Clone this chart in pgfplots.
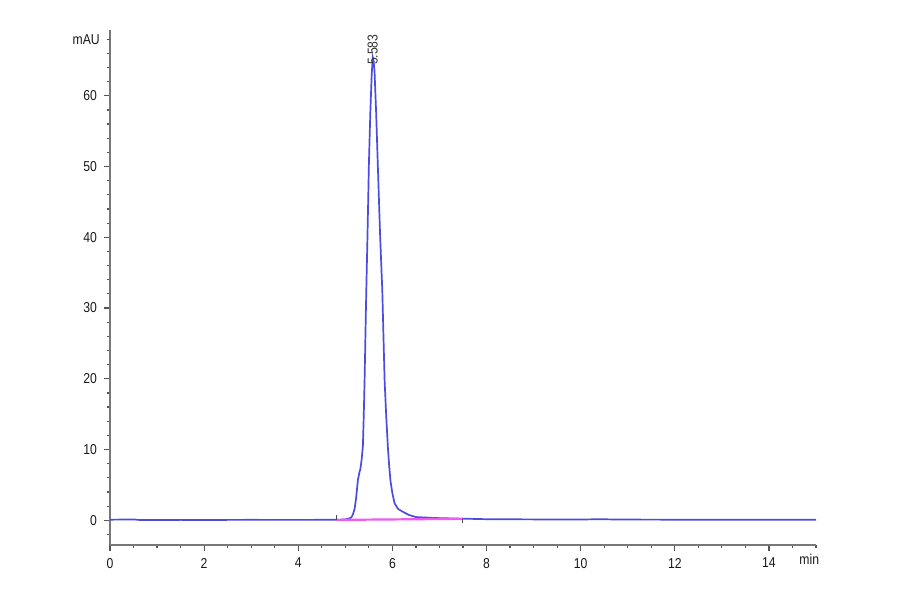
\documentclass[border=0pt]{standalone}
\usepackage{fontspec}
\setmainfont{Liberation Sans}[FakeStretch=0.85]
\usepackage{pgfplots}
\pgfplotsset{compat=1.18}
\definecolor{trace}{RGB}{75,75,225}
\definecolor{base}{RGB}{240,90,240}
\definecolor{axgray}{RGB}{120,120,120}
\begin{document}
\begin{tikzpicture}[x=1bp,y=1bp]
\path[use as bounding box] (0,0) rectangle (450,297);
\begin{axis}[
  at={(55bp,24.5bp)}, anchor=south west,
  scale only axis, width=353bp, height=257.5bp,
  xmin=0, xmax=15, ymin=-3.5, ymax=69.3,
  axis x line*=bottom, axis y line*=left,
  axis line style={axgray,-},
  x axis line style={line width=1bp},
  y axis line style={line width=0.6bp},
  xtick={0,2,...,14}, ytick={0,10,...,60},
  minor xtick={0,0.5,...,15}, minor ytick={-2,0,...,68},
  tick align=outside, major tick length=3bp, minor tick length=1.6bp,
  tick style={axgray!70!black, line width=0.6bp},
  extra y ticks={68}, extra y tick labels={mAU},
  extra y tick style={major tick length=1.6bp},
  ticklabel style={font=\fontsize{7.2}{8}\selectfont, text=black!90},
  /pgf/number format/assume math mode=true,
  scaled ticks=false,
  clip=false,
]
\addplot[trace, line width=0.85bp] coordinates {
(0,0.08) (0.3,0.1) (0.5,0.12) (0.6,0.05) (1,0.04) (1.5,0.05) (2,0.04) (2.5,0.05) (3,0.06) (3.5,0.05) (4,0.05) (4.5,0.06) (4.8,0.06)
(5.0,0.12) (5.1,0.3) (5.127,0.4) (5.16,0.8) (5.197,1.6) (5.23,3.2) (5.267,5.7) (5.30,6.8) (5.318,7.2) (5.345,8.5) (5.373,10.5) (5.39,14.5) (5.409,19.8) (5.445,32.5) (5.47,40) (5.50,50.2) (5.53,57.5) (5.56,63) (5.583,65.4)
(5.60,65.0) (5.62,63.5) (5.655,57.5) (5.69,50.2) (5.74,40) (5.785,32.5) (5.81,26) (5.834,19.8) (5.87,14.5) (5.904,10.3) (5.93,7.8) (5.96,5.5) (6.0,3.8) (6.046,2.4) (6.12,1.6) (6.22,1.2) (6.35,0.75) (6.5,0.45) (6.8,0.35) (7,0.3) (7.5,0.22) (8,0.15) (9,0.12) (10,0.1) (10.4,0.15) (10.8,0.1) (12,0.08) (13,0.08) (14,0.07) (15,0.07)
};
\addplot[base, line width=1.1bp] coordinates {(4.81,0.05) (7.49,0.2)};
\addplot[black!70, line width=0.6bp] coordinates {(4.81,0.0) (4.81,0.7)};
\addplot[black!70, line width=0.6bp] coordinates {(7.49,0.2) (7.49,-0.4)};
\node[rotate=90, anchor=west, inner sep=0pt, font=\fontsize{7.2}{8}\selectfont, text=black!80] at (axis cs:5.583,64.3) {5.583};
\node[anchor=north west, inner sep=0pt, font=\fontsize{7.2}{8}\selectfont, text=black!90] at (axis cs:14.64,-3.5) [yshift=-4.5bp] {min};
\end{axis}
\end{tikzpicture}
\end{document}
